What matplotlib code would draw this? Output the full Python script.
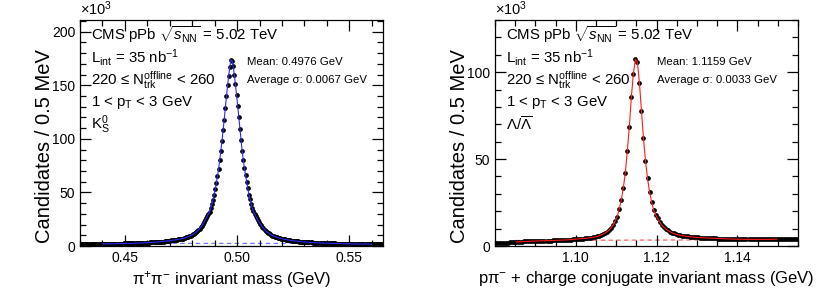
import numpy as np
import matplotlib.pyplot as plt
from matplotlib.ticker import MultipleLocator, FixedLocator

plt.rcParams['font.family'] = ['Liberation Sans', 'DejaVu Sans']
plt.rcParams['mathtext.fontset'] = 'custom'
plt.rcParams['mathtext.rm'] = 'Liberation Sans'
plt.rcParams['mathtext.it'] = 'Liberation Sans:italic'
plt.rcParams['mathtext.bf'] = 'Liberation Sans:bold'

# K0S candidates (x10^3) per 0.5 MeV bin, 0.430 - 0.565 GeV
ks_counts = [
    1.9, 1.9, 1.9, 1.9, 1.9, 1.9, 1.9, 1.9, 1.9, 1.9,
    2.0, 2.0, 2.0, 2.0, 2.0, 2.0, 2.0, 2.0, 2.0, 2.0,
    2.0, 2.0, 2.0, 2.0, 2.0, 2.1, 2.1, 2.1, 2.1, 2.1,
    2.1, 2.1, 2.2, 2.2, 2.2, 2.2, 2.3, 2.3, 2.3, 2.4,
    2.4, 2.4, 2.5, 2.5, 2.5, 2.5, 2.6, 2.6, 2.6, 2.7,
    2.7, 2.8, 2.8, 2.8, 2.9, 2.9, 3.0, 3.0, 3.1, 3.1,
    3.2, 3.2, 3.3, 3.3, 3.4, 3.4, 3.5, 3.6, 3.6, 3.7,
    3.8, 3.9, 4.0, 4.1, 4.2, 4.3, 4.5, 4.6, 4.7, 4.9,
    5.0, 5.2, 5.3, 5.5, 5.6, 5.8, 6.0, 6.2, 6.4, 6.6,
    6.8, 7.0, 7.3, 7.6, 8.0, 8.3, 8.7, 9.2, 9.7, 10.2,
    10.8, 11.5, 12.2, 13.0, 14.0, 15.0, 16.2, 17.5, 19.0, 20.5,
    22.0, 24.0, 26.0, 28.0, 30.0, 32.0, 35.5, 39.0, 43.0, 48.0,
    53, 59, 65, 72, 80, 89, 98, 108, 118, 129,
    140, 150, 159, 167, 174, 173, 168, 160, 151, 141,
    131, 120, 109, 99, 89, 80, 73, 66, 60, 54,
    48, 43.5, 39.5, 35.5, 32.5, 30, 28, 26, 24, 22.5,
    21, 19.5, 18, 16.5, 15.3, 14.2, 13.2, 12.4, 11.7, 11.0,
    10.4, 9.8, 9.3, 8.8, 8.4, 8.0, 7.7, 7.4, 7.1, 6.8,
    6.6, 6.4, 6.2, 6.0, 5.8, 5.6, 5.4, 5.3, 5.1, 5.0,
    4.8, 4.7, 4.6, 4.5, 4.4, 4.2, 4.1, 4.0, 3.9, 3.8,
    3.7, 3.6, 3.6, 3.5, 3.4, 3.3, 3.3, 3.2, 3.2, 3.1,
    3.1, 3.0, 3.0, 2.9, 2.9, 2.8, 2.8, 2.7, 2.7, 2.7,
    2.6, 2.6, 2.5, 2.5, 2.5, 2.4, 2.4, 2.4, 2.3, 2.3,
    2.3, 2.2, 2.2, 2.2, 2.1, 2.1, 2.1, 2.1, 2.0, 2.0,
    2.0, 2.0, 2.0, 1.9, 1.9, 1.9, 1.9, 1.9, 1.9, 1.9,
    1.9, 1.9, 1.9, 1.9, 1.9, 1.8, 1.8, 1.8, 1.8, 1.8,
    1.8, 1.8, 1.8, 1.8, 1.8, 1.8, 1.8, 1.8, 1.8, 1.8,
]

# Lambda candidates (x10^3) per 0.5 MeV bin, 1.080 - 1.155 GeV
lam_counts = [
    1.7, 1.7, 1.8, 1.8, 1.9, 1.9, 2.0, 2.1, 2.2, 2.3,
    2.4, 2.4, 2.5, 2.5, 2.6, 2.6, 2.7, 2.7, 2.8, 2.8,
    2.9, 2.9, 3.0, 3.0, 3.0, 3.1, 3.1, 3.1, 3.2, 3.2,
    3.3, 3.3, 3.4, 3.4, 3.5, 3.5, 3.6, 3.7, 3.8, 3.9,
    4.0, 4.1, 4.2, 4.3, 4.4, 4.5, 4.7, 4.8, 5.0, 5.2,
    5.5, 5.9, 6.3, 6.9, 7.5, 8.2, 9.2, 10.5, 12.1, 14.4,
    16.9, 21.3, 26.4, 33.2, 41.8, 54.6, 68.6, 85.5, 99.2, 107.5,
    105.7, 93.9, 77.6, 61.9, 49.0, 38.9, 31.2, 25.5, 20.7, 18.0,
    15.9, 13.8, 12.2, 10.9, 9.8, 9.0, 8.3, 7.7, 7.2, 6.8,
    6.5, 6.2, 6.0, 5.8, 5.6, 5.5, 5.3, 5.2, 5.1, 5.0,
    4.9, 4.8, 4.8, 4.7, 4.6, 4.6, 4.5, 4.5, 4.4, 4.4,
    4.3, 4.3, 4.2, 4.2, 4.1, 4.1, 4.0, 4.0, 4.0, 3.9,
    3.9, 3.9, 3.9, 3.8, 3.8, 3.8, 3.8, 3.8, 3.8, 3.8,
    3.8, 3.8, 3.8, 3.8, 3.8, 3.8, 3.8, 3.9, 3.9, 3.9,
    3.9, 3.9, 3.9, 3.9, 3.9, 3.9, 3.9, 3.9, 3.9, 3.9,
]

bin_width = 0.0005
ks_range = (0.430, 0.565)
lam_range = (1.080, 1.155)
ks_fit_range = (0.440, 0.560)
lam_fit_range = (1.085, 1.150)
ks_bkg = [2.5, 2.4]
lam_bkg = [3.2, 3.6]
ks_ticks = [0.45, 0.50, 0.55]
lam_ticks = [1.10, 1.12, 1.14]

ks_text = ['CMS pPb $\\sqrt{s_{\\mathrm{NN}}}$ = 5.02 TeV',
           'L$_{\\mathrm{int}}$ = 35 nb$^{-1}$',
           '220 ≤ N$_{\\mathrm{trk}}^{\\mathrm{offline}}$ < 260',
           '1 < p$_{\\mathrm{T}}$ < 3 GeV',
           'K$_{\\mathrm{S}}^{0}$']
lam_text = ks_text[:4] + ['$\\Lambda/\\overline{\\Lambda}$']
ks_stats = ['Mean: 0.4976 GeV', 'Average σ: 0.0067 GeV']
lam_stats = ['Mean: 1.1159 GeV', 'Average σ: 0.0033 GeV']


def draw_panel(ax, counts, xr, fr, bkg, color, bkg_color, ymax, xticks, xminor,
               xlabel, text, stats, stats_x):
    counts = np.array(counts)
    mass = xr[0] + bin_width * (np.arange(len(counts)) + 0.5)
    ax.plot(mass, counts, 'o', color='black', ms=2.4, mec='black', zorder=2)
    sel = (mass >= fr[0]) & (mass <= fr[1])
    ax.plot(mass[sel], counts[sel], '-', color=color, lw=0.8, zorder=3)
    ax.plot(fr, bkg, '--', color=bkg_color, lw=0.8, dashes=(4, 3), zorder=1)
    ax.set_xlim(*xr)
    ax.set_ylim(0, ymax)
    ax.xaxis.set_major_locator(FixedLocator(xticks))
    ax.xaxis.set_minor_locator(MultipleLocator(xminor))
    ax.xaxis.set_major_formatter(plt.FuncFormatter(lambda v, p: '%.2f' % v))
    ax.yaxis.set_major_locator(MultipleLocator(50))
    ax.yaxis.set_minor_locator(MultipleLocator(10))
    ax.tick_params(which='both', direction='in', top=True, right=True, labelsize=10)
    ax.tick_params(which='major', length=8, width=0.9)
    ax.tick_params(which='minor', length=4, width=0.9)
    for s in ax.spines.values():
        s.set_linewidth(0.9)
    ax.set_xlabel(xlabel, fontsize=12, labelpad=3)
    ax.set_ylabel('Candidates / 0.5 MeV', fontsize=14.5)
    ax.yaxis.set_label_coords(-0.086, 0.44)
    ax.text(0.0, 1.01, '$\\times$10$^{3}$', transform=ax.transAxes, fontsize=10.5,
            ha='left', va='bottom')
    for i, t in enumerate(text):
        ax.text(0.035, 0.934 - i * 0.0998, t, transform=ax.transAxes, fontsize=10.8,
                ha='left', va='center')
    for i, t in enumerate(stats):
        ax.text(stats_x, 0.812 - i * 0.077, t, transform=ax.transAxes, fontsize=8.2,
                ha='left', va='center')


fig = plt.figure(figsize=(8.3, 2.93), dpi=100)
ax1 = fig.add_axes([80 / 830, 1 - 246 / 293, 303 / 830, 226 / 293])
ax2 = fig.add_axes([495 / 830, 1 - 246 / 293, 303 / 830, 226 / 293])

draw_panel(ax1, ks_counts, ks_range, ks_fit_range, ks_bkg, '#2a2aff', '#6a6aff',
           211, ks_ticks, 0.01, 'π$^{+}$π$^{-}$ invariant mass (GeV)',
           ks_text, ks_stats, 0.551)
draw_panel(ax2, lam_counts, lam_range, lam_fit_range, lam_bkg, '#ff1a1a', '#ff5050',
           130, lam_ticks, 0.005, 'pπ$^{-}$ + charge conjugate invariant mass (GeV)',
           lam_text, lam_stats, 0.535)

fig.savefig('out.png', dpi=100)
